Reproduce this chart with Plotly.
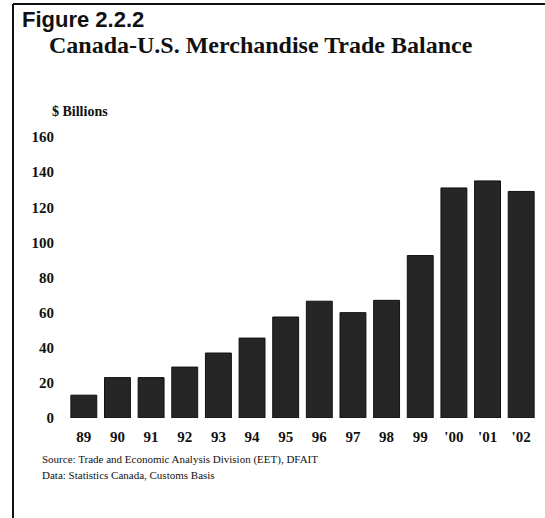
import plotly.graph_objects as go

years = ["89", "90", "91", "92", "93", "94", "95", "96", "97", "98", "99", "'00", "'01", "'02"]
balance = [13, 23, 23, 29, 37, 45.5, 57.5, 66.5, 60, 67, 92.5, 131, 135, 129]
y_ticks = [0, 20, 40, 60, 80, 100, 120, 140, 160]

W, H = 545, 518
L, R, T, B = 67, 7, 137, 100
pw, ph = W - L - R, H - T - B


def px(x):
    return (x - L) / pw


def py(y):
    return (H - B - y) / ph


fig = go.Figure(go.Bar(
    x=years, y=balance,
    marker=dict(color="#262626", line=dict(color="#111111", width=1)),
    width=0.77,
))

serif = "Liberation Serif, Times New Roman, serif"
sans = "Liberation Sans, Arial, sans-serif"

fig.update_layout(
    width=W, height=H,
    margin=dict(l=L, r=R, t=T, b=B),
    paper_bgcolor="white", plot_bgcolor="white",
    showlegend=False,
    xaxis=dict(type="category", range=[-0.5, 13.5], showgrid=False, zeroline=False,
               showline=False, ticks="",
               tickfont=dict(family=serif, size=15, color="#111", weight="bold"),
               ticklabelstandoff=8),
    yaxis=dict(range=[0, 160], tickvals=y_ticks, showgrid=False, zeroline=False,
               showline=False, ticks="",
               tickfont=dict(family=serif, size=15, color="#111", weight="bold"),
               ticklabelstandoff=12),
    shapes=[
        dict(type="line", xref="paper", yref="paper", x0=px(13), x1=px(545), y0=py(4), y1=py(4),
             line=dict(color="#111", width=2)),
        dict(type="line", xref="paper", yref="paper", x0=px(13), x1=px(13), y0=py(4), y1=py(518),
             line=dict(color="#111", width=2)),
    ],
    annotations=[
        dict(text="<b>Figure 2.2.2</b>", xref="paper", yref="paper", x=px(20), y=py(19),
             xanchor="left", yanchor="middle", showarrow=False,
             font=dict(family=sans, size=22, color="#111")),
        dict(text="<b>Canada-U.S. Merchandise Trade Balance</b>", xref="paper", yref="paper",
             x=px(47), y=py(45), xanchor="left", yanchor="middle", showarrow=False,
             font=dict(family=serif, size=24, color="#111")),
        dict(text="<b>$ Billions</b>", xref="paper", yref="paper", x=px(50), y=py(112),
             xanchor="left", yanchor="middle", showarrow=False,
             font=dict(family=serif, size=14, color="#111")),
        dict(text="Source: Trade and Economic Analysis Division (EET), DFAIT", xref="paper",
             yref="paper", x=px(40), y=py(459), xanchor="left", yanchor="middle", showarrow=False,
             font=dict(family=serif, size=11, color="#111")),
        dict(text="Data: Statistics Canada, Customs Basis", xref="paper",
             yref="paper", x=px(40), y=py(475), xanchor="left", yanchor="middle", showarrow=False,
             font=dict(family=serif, size=11, color="#111")),
    ],
)

fig.write_html("out.html", config={"displayModeBar": False},
               post_script="document.body.style.margin='0';")
